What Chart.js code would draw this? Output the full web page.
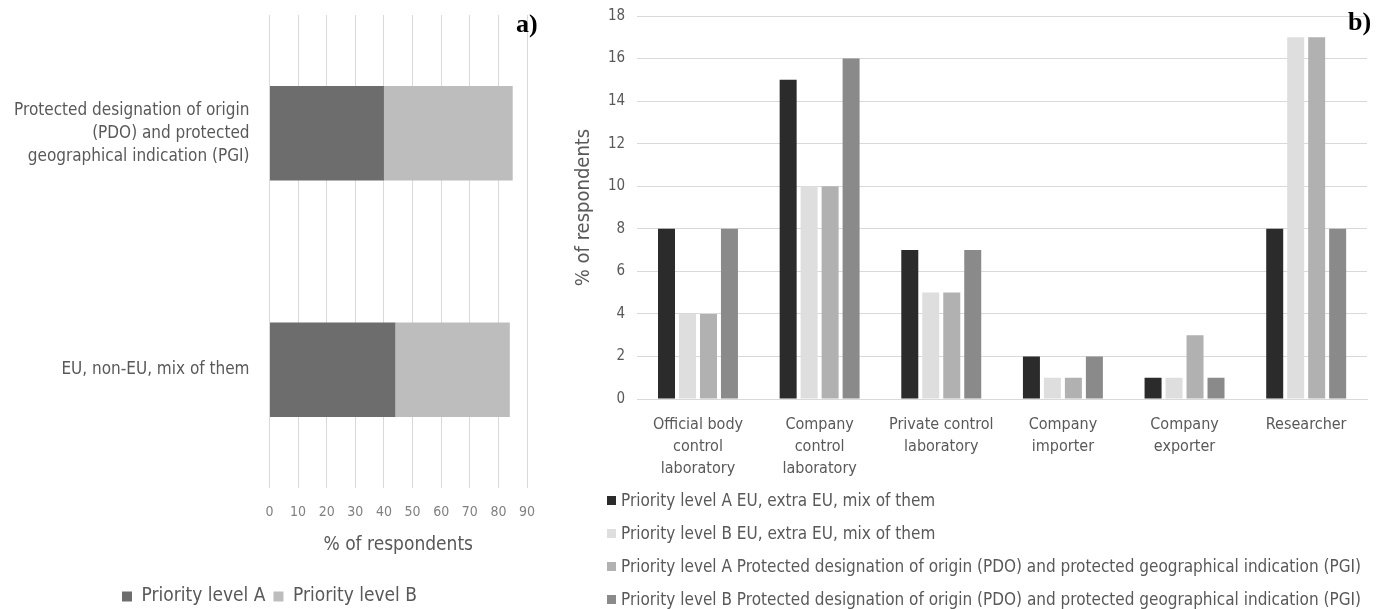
<!DOCTYPE html>
<html>
<head>
<meta charset="utf-8">
<script src="https://cdn.jsdelivr.net/npm/chart.js@4/dist/chart.umd.min.js"></script>
<style>
	body { margin: 0; background: #fff; font-family: 'DejaVu Sans Condensed', 'DejaVu Sans', sans-serif; }
	#wrap { position: relative; width: 1386px; height: 609px; overflow: hidden; }
	#chart-a { position: absolute; left: 0; top: 0; width: 560px; height: 609px; }
	#chart-b { position: absolute; left: 545px; top: 0; width: 841px; height: 493px; }
	.panel { position: absolute; font-family: 'Liberation Serif', serif; font-weight: bold; font-size: 26px; color: #000; }
	#legend-b { position: absolute; left: 607px; top: 488px; }
	#legend-b div { height: 33px; line-height: 24px; font-size: 17px; color: #595959; white-space: nowrap; }
	#legend-b span { display: inline-block; width: 9px; height: 9px; margin-right: 5px; vertical-align: 1px; }
</style>
</head>
<body>
<div id="wrap">
	<div id="chart-a"><canvas></canvas></div>
	<div id="chart-b"><canvas></canvas></div>
	<div class="panel" style="left:516px; top:9px;">a)</div>
	<div class="panel" style="left:1348px; top:7px;">b)</div>
	<div id="legend-b"></div>
</div>
<script>
console.log('chart.js')

const FONT = "'DejaVu Sans Condensed', 'DejaVu Sans', sans-serif"
const TEXT = '#595959'
const GRID = '#d9d9d9'

// a) 原産地区分ごとの優先度
const a_labels = [
	['Protected designation of origin', '(PDO) and protected', 'geographical indication (PGI)'],
	'EU, non-EU, mix of them',
]
const a_level_a = [40, 44]
const a_level_b = [45, 40]

// b) 回答者の種別ごと
const b_labels = [
	['Official body', 'control', 'laboratory'],
	['Company', 'control', 'laboratory'],
	['Private control', 'laboratory'],
	['Company', 'importer'],
	['Company', 'exporter'],
	'Researcher',
]
const b_series_names = [
	'Priority level A EU, extra EU, mix of them',
	'Priority level B EU, extra EU, mix of them',
	'Priority level A Protected designation of origin (PDO) and protected geographical indication (PGI)',
	'Priority level B Protected designation of origin (PDO) and protected geographical indication (PGI)',
]
const b_a_eu = [8, 15, 7, 2, 1, 8]
const b_b_eu = [4, 10, 5, 1, 1, 17]
const b_a_pdo = [4, 10, 5, 1, 3, 17]
const b_b_pdo = [8, 16, 7, 2, 1, 8]
const b_colors = ['#2b2b2b', '#dedede', '#b1b1b1', '#8a8a8a']

Chart.defaults.font.family = FONT
Chart.defaults.color = TEXT
Chart.defaults.animation = false

// ラベルのはみ出し分の自動余白を消す（位置はlayout.paddingで決める）
function noOverhang(scale) {
	scale.paddingTop = 0
	scale.paddingBottom = 0
	scale.paddingLeft = 0
	scale.paddingRight = 0
}

// 横棒グラフ（積み上げ）
new Chart(document.querySelector('#chart-a canvas'), {
	type: 'bar',
	data: {
		labels: a_labels,
		datasets: [
			{ label: 'Priority level A', data: a_level_a, backgroundColor: '#6d6d6d' },
			{ label: 'Priority level B', data: a_level_b, backgroundColor: '#bdbdbd' },
		]
	},
	options: {
		indexAxis: 'y',
		responsive: true,
		maintainAspectRatio: false,
		layout: { padding: { left: 12, right: 33, top: 15, bottom: -7 } },
		datasets: { bar: { barPercentage: 0.4, categoryPercentage: 1 } },
		plugins: {
			tooltip: { enabled: false },
			legend: {
				position: 'bottom',
				labels: { boxWidth: 10, boxHeight: 10, padding: 8, font: { size: 19 }, color: TEXT }
			}
		},
		scales: {
			x: {
				stacked: true,
				min: 0,
				max: 90,
				afterFit: noOverhang,
				ticks: { stepSize: 10, font: { size: 14, lineHeight: 1 }, color: '#808080', padding: 17 },
				grid: { color: GRID, drawTicks: false },
				border: { display: false },
				title: { display: true, text: '% of respondents', font: { size: 19, lineHeight: 1 }, color: TEXT, padding: { top: 0, bottom: 24 } }
			},
			y: {
				stacked: true,
				afterFit: noOverhang,
				ticks: { font: { size: 17, lineHeight: 1.35 }, color: TEXT, padding: 12 },
				grid: { display: false },
				border: { display: false }
			}
		}
	}
})

// 縦棒グラフ（グループ）
const b_chart = new Chart(document.querySelector('#chart-b canvas'), {
	type: 'bar',
	data: {
		labels: b_labels,
		datasets: [b_a_eu, b_b_eu, b_a_pdo, b_b_pdo].map((d, i) => ({
			label: b_series_names[i],
			data: d,
			backgroundColor: b_colors[i],
		}))
	},
	options: {
		responsive: true,
		maintainAspectRatio: false,
		layout: { padding: { left: 27, right: 19, top: 16, bottom: 6 } },
		datasets: { bar: { barPercentage: 0.81, categoryPercentage: 0.69 } },
		plugins: {
			tooltip: { enabled: false },
			legend: { display: false }
		},
		scales: {
			x: {
				afterFit: noOverhang,
				ticks: { font: { size: 16, lineHeight: 1.375 }, color: TEXT, maxRotation: 0, padding: 7 },
				grid: { display: false },
				border: { color: GRID }
			},
			y: {
				min: 0,
				max: 18,
				afterFit: noOverhang,
				ticks: { stepSize: 2, font: { size: 15 }, color: TEXT, padding: 12 },
				grid: { color: GRID, drawTicks: false },
				border: { display: false },
				title: { display: true, text: '% of respondents', font: { size: 20 }, color: TEXT, padding: { top: 0, bottom: 0 } }
			}
		}
	}
})

// 凡例は縦並びなのでHTMLで作る
const legend_b = document.getElementById('legend-b')
b_chart.data.datasets.forEach(function(ds){
	const row = document.createElement('div')
	const box = document.createElement('span')
	box.style.background = ds.backgroundColor
	row.appendChild(box)
	row.appendChild(document.createTextNode(ds.label))
	legend_b.appendChild(row)
})
</script>
</body>
</html>
